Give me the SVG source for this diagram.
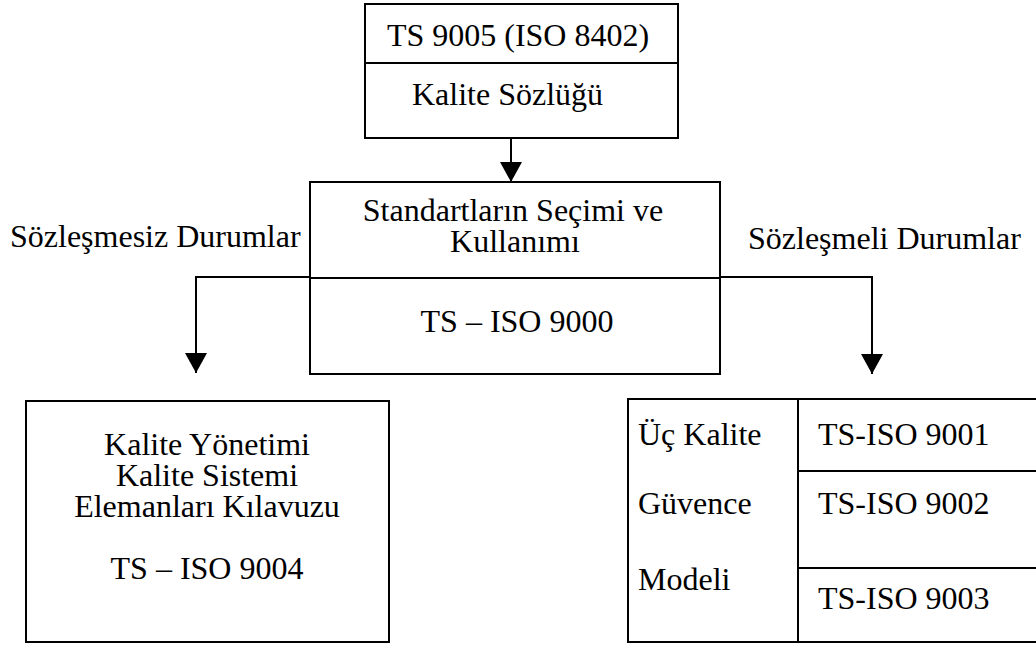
<svg xmlns="http://www.w3.org/2000/svg" width="1036" height="645" viewBox="0 0 1036 645">
  <style>
    .box { fill: #fff; stroke: #000; stroke-width: 2; }
    .rule { stroke: #000; stroke-width: 2; fill: none; }
    .conn { stroke: #000; stroke-width: 2; fill: none; marker-end: url(#arrow); }
    text { font-family: "Liberation Serif", "Times New Roman", serif; font-size: 32px; fill: #000; }
    .mid { text-anchor: middle; }
  </style>
  <defs>
    <marker id="arrow" viewBox="0 0 20 22" refX="20" refY="11" markerWidth="20" markerHeight="22" markerUnits="userSpaceOnUse" orient="auto">
      <path d="M0,0 L20,11 L0,22 Z" fill="#000"/>
    </marker>
  </defs>

  <rect width="1036" height="645" fill="#fff"/>

  <!-- vocabulary standard -->
  <g id="node-ts9005">
    <rect class="box" x="365" y="4" width="313" height="134"/>
    <line class="rule" x1="365" y1="63" x2="678" y2="63"/>
    <text x="518" y="46" class="mid">TS 9005 (ISO 8402)</text>
    <text x="412" y="105">Kalite Sözlüğü</text>
  </g>

  <!-- selection and use guide -->
  <g id="node-ts9000">
    <rect class="box" x="310" y="182" width="410" height="192"/>
    <line class="rule" x1="310" y1="278" x2="720" y2="278"/>
    <text x="513" y="221" class="mid">Standartların Seçimi ve</text>
    <text x="515" y="252" class="mid">Kullanımı</text>
    <text x="517" y="332" class="mid">TS – ISO 9000</text>
  </g>

  <!-- branch labels -->
  <g id="label-sozlesmesiz">
    <text x="10" y="247">Sözleşmesiz Durumlar</text>
  </g>
  <g id="label-sozlesmeli">
    <text x="748" y="249">Sözleşmeli Durumlar</text>
  </g>

  <!-- quality management guidance -->
  <g id="node-ts9004">
    <rect class="box" x="26" y="401" width="363" height="241"/>
    <text x="207" y="455" class="mid">Kalite Yönetimi</text>
    <text x="207" y="486" class="mid">Kalite Sistemi</text>
    <text x="207" y="517" class="mid">Elemanları Kılavuzu</text>
    <text x="207" y="579" class="mid">TS – ISO 9004</text>
  </g>

  <!-- three quality assurance models -->
  <g id="node-models">
    <path class="rule" d="M1040,399 H628 V642 H1040"/>
    <line class="rule" x1="798" y1="399" x2="798" y2="642"/>
    <line class="rule" x1="798" y1="471" x2="1040" y2="471"/>
    <line class="rule" x1="798" y1="568" x2="1040" y2="568"/>
    <text x="638" y="445">Üç Kalite</text>
    <text x="638" y="514">Güvence</text>
    <text x="638" y="590">Modeli</text>
    <text x="818" y="445">TS-ISO 9001</text>
    <text x="818" y="514">TS-ISO 9002</text>
    <text x="818" y="609">TS-ISO 9003</text>
  </g>

  <g id="connectors">
    <path class="conn" d="M511,138 V182"/>
    <path class="conn" d="M310,277 H196 V373"/>
    <path class="conn" d="M720,277 H872 V374"/>
  </g>
</svg>
